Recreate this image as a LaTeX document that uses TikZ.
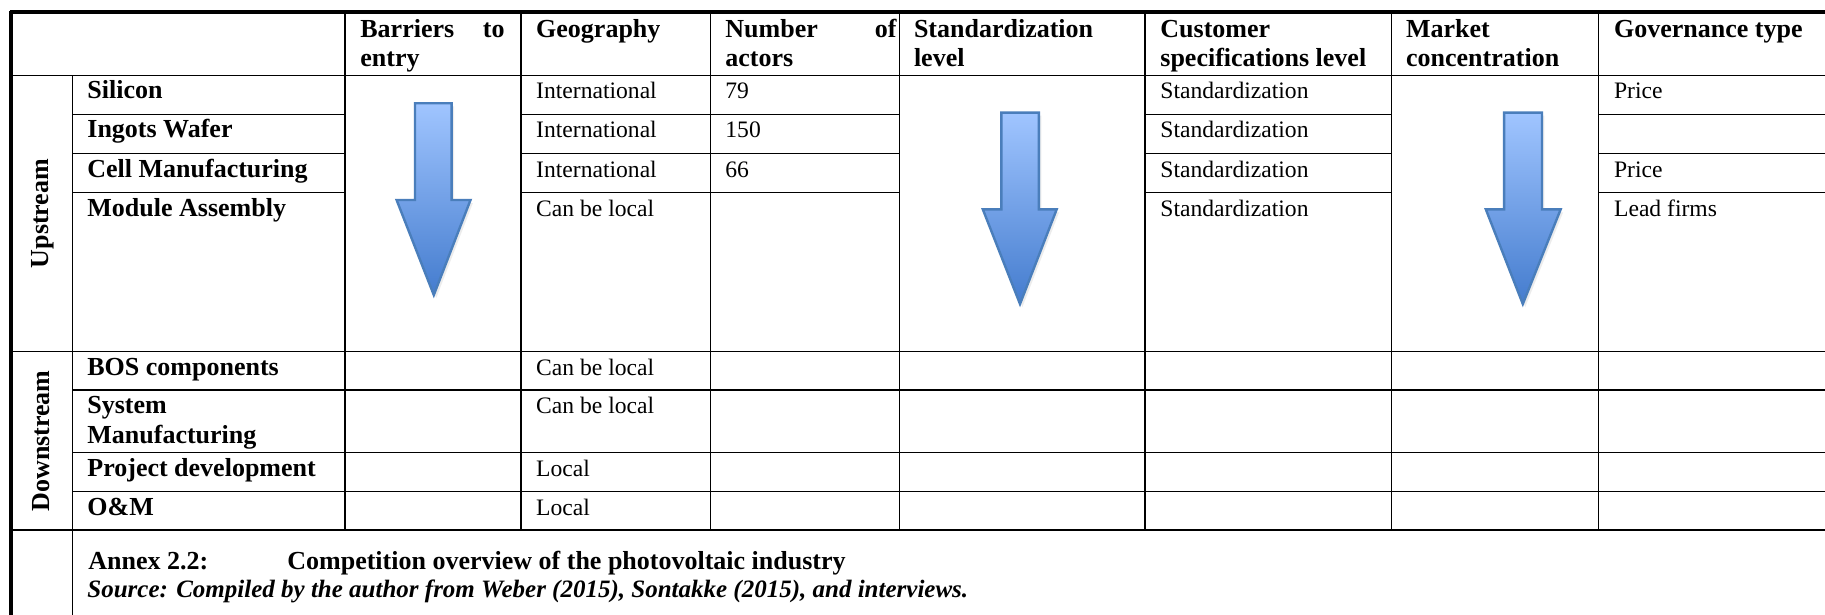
\documentclass[tikz,border=0pt]{standalone}
\usepackage{fontspec}
\setmainfont{Liberation Serif}
\usetikzlibrary{shadows}
\definecolor{arrtop}{RGB}{160,197,255}
\definecolor{arrbot}{RGB}{68,124,206}
\definecolor{arrline}{RGB}{74,126,187}
\begin{document}
\begin{tikzpicture}[x=0.5pt,y=-0.5pt,
  gridline/.style={line width=0.6pt,black},
  borderline/.style={line width=2.2pt,black},
  reg/.style={anchor=base west,inner sep=0pt,font=\fontsize{11.8}{14}\selectfont},
  bld/.style={anchor=base west,inner sep=0pt,font=\fontsize{13}{15}\selectfont\bfseries},
  bldr/.style={bld,anchor=base east},
  side/.style={inner sep=0pt,rotate=90,anchor=center,font=\fontsize{13}{15}\selectfont\bfseries},
  srcstyle/.style={anchor=base west,inner sep=0pt,font=\fontsize{12.5}{15}\selectfont\bfseries\itshape},
  bluearrow/.style={top color=arrtop,bottom color=arrbot,draw=arrline,line width=1.2pt,line join=miter,
    drop shadow={opacity=0.15,shadow xshift=1.2pt,shadow yshift=-1.5pt}}
]
\useasboundingbox (0,0) rectangle (1825,615);
\fill[white] (0,0) rectangle (1825,615);

% ---- arrows ----
\path[bluearrow] (415,103.3) -- (451.6,103.3) -- (451.6,200) -- (470.5,200) -- (433.8,295) -- (396.6,200) -- (415,200) -- cycle;
\path[bluearrow] (1001.3,112.7) -- (1038.9,112.7) -- (1038.9,209.3) -- (1056.7,209.3) -- (1020,304) -- (982.8,209.3) -- (1001.3,209.3) -- cycle;
\path[bluearrow] (1504.1,112.7) -- (1542,112.7) -- (1542,209.3) -- (1560.7,209.3) -- (1522.8,304) -- (1485.8,209.3) -- (1504.1,209.3) -- cycle;

% ---- grid ----
\foreach \x in {345,521,710.7,899.3,1145,1391.7,1598.6}
  \draw[gridline] (\x,12) -- (\x,530);
\draw[gridline] (72.3,75.3) -- (72.3,615);
\foreach \y in {75.3,351.7,530}
  \draw[gridline] (11,\y) -- (1825,\y);
\foreach \y in {114.3,153.3,192.3}{
  \draw[gridline] (72.3,\y) -- (345,\y);
  \draw[gridline] (521,\y) -- (899.3,\y);
  \draw[gridline] (1145,\y) -- (1391.7,\y);
  \draw[gridline] (1598.6,\y) -- (1825,\y);
}
\foreach \y in {390,452.3,491.3}
  \draw[gridline] (72.3,\y) -- (1825,\y);
\draw[borderline] (9.9,12) -- (1825,12);
\draw[borderline] (11,10.9) -- (11,615);

% ---- header ----
\node[bld]  (h1a) at (360,38) {Barriers};
\node[bldr] (h1b) at (505,38) {to};
\node[bld]  (h1c) at (360,67) {entry};
\node[bld]  (h2)  at (535.8,38) {Geography};
\node[bld]  (h3a) at (725,38) {Number};
\node[bldr] (h3b) at (897,38) {of};
\node[bld]  (h3c) at (725,67) {actors};
\node[bld]  (h4a) at (913.6,38) {Standardization};
\node[bld]  (h4b) at (913.6,67) {level};
\node[bld]  (h5a) at (1160,38) {Customer};
\node[bld]  (h5b) at (1160,67) {specifications level};
\node[bld]  (h6a) at (1405.7,38) {Market};
\node[bld]  (h6b) at (1405.7,67) {concentration};
\node[bld]  (h7)  at (1613.7,38) {Governance type};

% ---- side labels ----
\node[side] (up) at (42.5,213.5) {Upstream};
\node[side] (down) at (41.5,441) {Downstream};

% ---- upstream rows ----
\node[bld] (r1) at (87,99) {Silicon};
\node[bld] (r2) at (87,138) {Ingots Wafer};
\node[bld] (r3) at (87,177) {Cell Manufacturing};
\node[bld] (r4) at (87,216) {Module Assembly};

\node[reg] (g1) at (535.8,99) {International};
\node[reg] (g2) at (535.8,138) {International};
\node[reg] (g3) at (535.8,177) {International};
\node[reg] (g4) at (535.8,216) {Can be local};

\node[reg] (n1) at (725,99) {79};
\node[reg] (n2) at (725,138) {150};
\node[reg] (n3) at (725,177) {66};

\node[reg] (c1) at (1160,99) {Standardization};
\node[reg] (c2) at (1160,138) {Standardization};
\node[reg] (c3) at (1160,177) {Standardization};
\node[reg] (c4) at (1160,216) {Standardization};

\node[reg] (v1) at (1613.7,99) {Price};
\node[reg] (v3) at (1613.7,177) {Price};
\node[reg] (v4) at (1613.7,216) {Lead firms};

% ---- downstream rows ----
\node[bld] (d1)  at (87,375.4) {BOS components};
\node[bld] (d2a) at (87,413.7) {System};
\node[bld] (d2b) at (87,443.7) {Manufacturing};
\node[bld] (d3)  at (87,476) {Project development};
\node[bld] (d4)  at (87,515) {O\&M};

\node[reg] (dg1) at (535.8,375.4) {Can be local};
\node[reg] (dg2) at (535.8,413.7) {Can be local};
\node[reg] (dg3) at (535.8,476) {Local};
\node[reg] (dg4) at (535.8,515) {Local};

% ---- caption ----
\node[bld] (annex) at (88,569.5) {Annex 2.2:};
\node[bld] (title) at (287,569.5) {Competition overview of the photovoltaic industry};
\node[srcstyle] (src) at (87,597) {Source: Compiled by the author from Weber (2015), Sontakke (2015), and interviews.};
\end{tikzpicture}
\end{document}
